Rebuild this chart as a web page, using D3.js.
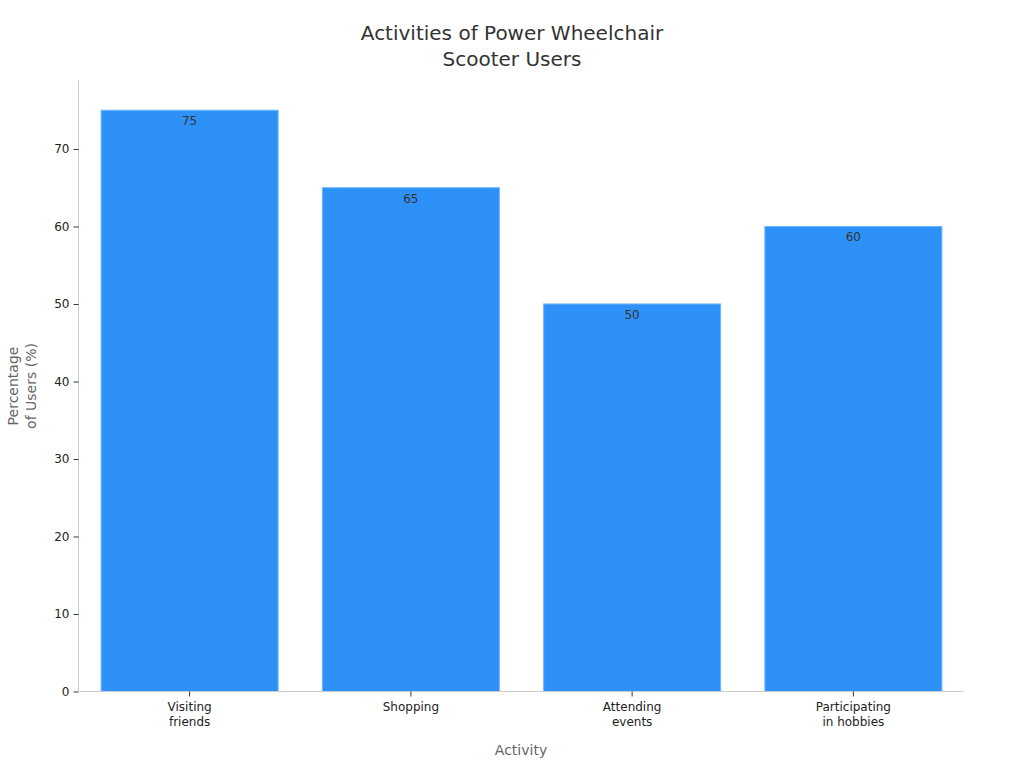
<!DOCTYPE html>
<html><head><meta charset="utf-8">
<script src="https://cdn.jsdelivr.net/npm/d3@7"></script>
<style>body{margin:0;background:#fff;font-family:"DejaVu Sans",sans-serif;}</style>
</head><body><svg id="c" width="1024" height="768"></svg>
<script>
const categories = [["Visiting","friends"],["Shopping"],["Attending","events"],["Participating","in hobbies"]];
const values = [75, 65, 50, 60];
const yTicks = [0,10,20,30,40,50,60,70];
const titleLines = ["Activities of Power Wheelchair","Scooter Users"];
const yTitle = ["Percentage","of Users (%)"];
const xTitle = "Activity";

const svg = d3.select("#c");
const m = {l:78.5, r:963.5, t:80, b:691.5};
const keys = categories.map(c=>c.join(" "));
const x = d3.scaleBand().domain(keys).range([m.l+0.5, m.r+0.5]).paddingInner(0.2).paddingOuter(0.1);
const y = d3.scaleLinear().domain([0, 78.9]).range([m.b, m.t]);

svg.append("text").attr("x",512).attr("y",40).attr("text-anchor","middle")
  .attr("font-size",20).attr("fill","#333")
  .selectAll("tspan").data(titleLines).join("tspan").attr("x",512).attr("dy",(d,i)=>i?26:0).text(d=>d);

svg.selectAll("rect.bar").data(values).join("rect").attr("class","bar")
  .attr("x",(d,i)=>x(keys[i])).attr("width",x.bandwidth())
  .attr("y",d=>y(d)).attr("height",d=>y(0)-y(d))
  .attr("fill","#2e91f8").attr("stroke","#6fb5fb").attr("stroke-width",1);

svg.selectAll("text.val").data(values).join("text").attr("class","val")
  .attr("x",(d,i)=>x(keys[i])+x.bandwidth()/2).attr("y",d=>y(d)+15)
  .attr("text-anchor","middle").attr("font-size",12).attr("fill","#333").text(d=>d);

const ya = svg.append("g").attr("transform",`translate(${m.l},0)`)
  .call(d3.axisLeft(y).tickValues(yTicks).tickSize(5).tickPadding(4));
ya.select(".domain").attr("stroke","#ccc").attr("d",`M0,${m.t}V${m.b}`);
ya.selectAll(".tick line").attr("stroke","#333");
ya.selectAll(".tick text").attr("font-size",12).attr("fill","#222").attr("font-family","DejaVu Sans");

const xa = svg.append("g").attr("transform",`translate(0,${m.b})`)
  .call(d3.axisBottom(x).tickSize(5).tickPadding(6));
xa.select(".domain").attr("stroke","#ccc").attr("d",`M${m.l},0H${m.r}`);
xa.selectAll(".tick line").attr("stroke","#333");
xa.selectAll(".tick text").attr("font-size",12).attr("fill","#222").attr("font-family","DejaVu Sans")
  .text(null).each(function(d,i){
    d3.select(this).selectAll("tspan").data(categories[i]).join("tspan")
      .attr("x",0).attr("dy",(t,j)=>j?"1.25em":"0.71em").text(t=>t);
  });

svg.append("text").attr("x",521).attr("y",755).attr("text-anchor","middle")
  .attr("font-size",14).attr("fill","#666").text(xTitle);

svg.append("text").attr("transform","translate(18,386) rotate(-90)").attr("text-anchor","middle")
  .attr("font-size",14).attr("fill","#666")
  .selectAll("tspan").data(yTitle).join("tspan").attr("x",0).attr("dy",(d,i)=>i?18:0).text(d=>d);
</script></body></html>
